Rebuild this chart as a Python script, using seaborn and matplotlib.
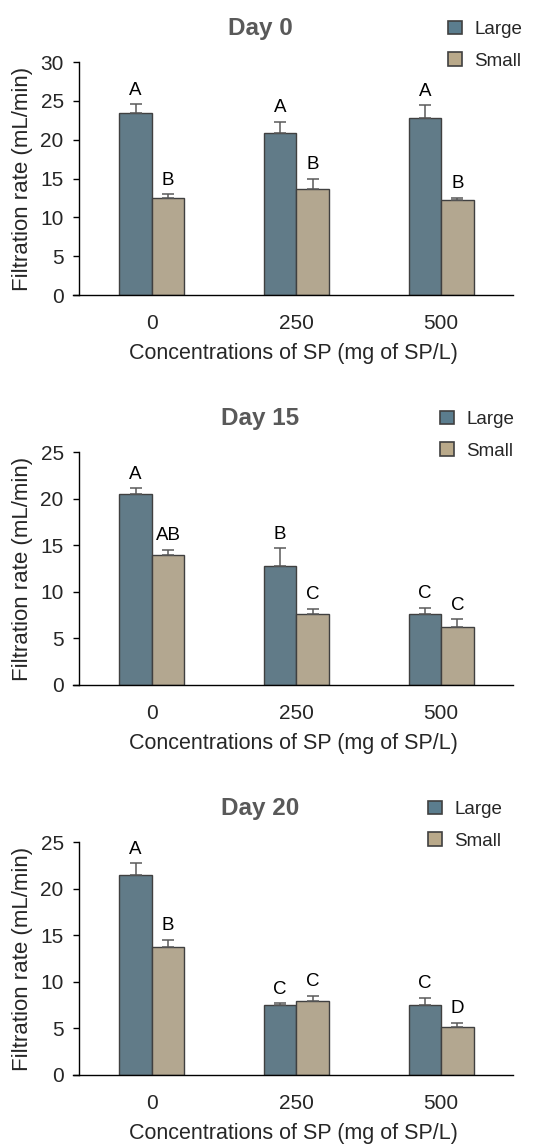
import numpy as np
import pandas as pd
import matplotlib
matplotlib.use("Agg")
import matplotlib.pyplot as plt
import seaborn as sns
from matplotlib.patches import Patch

# --- Data ---
concentrations = ["0", "250", "500"]
sizes = ["Large", "Small"]
days = ["Day 0", "Day 15", "Day 20"]

day0_large = [23.4, 20.8, 22.8]
day0_small = [12.5, 13.6, 12.2]
day0_large_err = [1.15, 1.45, 1.6]
day0_small_err = [0.45, 1.4, 0.35]
day0_large_let = ["A", "A", "A"]
day0_small_let = ["B", "B", "B"]

day15_large = [20.5, 12.8, 7.6]
day15_small = [14.0, 7.6, 6.2]
day15_large_err = [0.6, 1.85, 0.65]
day15_small_err = [0.5, 0.6, 0.85]
day15_large_let = ["A", "B", "C"]
day15_small_let = ["AB", "C", "C"]

day20_large = [21.5, 7.55, 7.55]
day20_small = [13.7, 7.95, 5.15]
day20_large_err = [1.2, 0.15, 0.7]
day20_small_err = [0.8, 0.55, 0.45]
day20_large_let = ["A", "C", "C"]
day20_small_let = ["B", "C", "D"]

y_max = [30, 25, 25]

panels = [
    (day0_large, day0_small, day0_large_err, day0_small_err, day0_large_let, day0_small_let),
    (day15_large, day15_small, day15_large_err, day15_small_err, day15_large_let, day15_small_let),
    (day20_large, day20_small, day20_large_err, day20_small_err, day20_large_let, day20_small_let),
]

palette = {"Large": "#5b7d8e", "Small": "#b9a98a"}
edge = "#404040"
err_col = "#5a5a5a"

sns.set_theme(style="white")
plt.rcParams["font.family"] = ["Liberation Sans", "DejaVu Sans"]

W, H = 550, 1144
fig = plt.figure(figsize=(W / 100, H / 100), dpi=100)

# axes boxes in pixels: (left, top, right, bottom)
boxes = [(73, 62, 513, 295), (73, 452, 513, 685), (73, 842, 513, 1075)]
legend_x = [0.852, 0.834, 0.807]

for k, (box, pdata) in enumerate(zip(boxes, panels)):
    large, small, lerr, serr, llet, slet = pdata
    l, t, r, b = box
    ax = fig.add_axes([l / W, 1 - b / H, (r - l) / W, (b - t) / H])

    df = pd.DataFrame({
        "conc": concentrations * 2,
        "size": ["Large"] * 3 + ["Small"] * 3,
        "rate": large + small,
    })
    sns.barplot(data=df, x="conc", y="rate", hue="size", order=concentrations,
                hue_order=sizes, palette=palette, width=0.45, errorbar=None,
                edgecolor=edge, linewidth=1.0, ax=ax, legend=False)

    errs = [lerr, serr]
    lets = [llet, slet]
    bar_conts = list(ax.containers)
    for c, cont in enumerate(bar_conts):
        for i, bar in enumerate(cont):
            xc = bar.get_x() + bar.get_width() / 2
            h = bar.get_height()
            e = errs[c][i]
            ax.errorbar(xc, h, yerr=[[0], [e]], fmt="none", ecolor=err_col,
                        elinewidth=1.1, capsize=4, capthick=1.1, zorder=1)
            ax.annotate(lets[c][i], (xc, h + e), xytext=(0, 7),
                        textcoords="offset points", ha="center", va="baseline",
                        fontsize=13.5, color="black")

    ax.set_xlim(-0.545, 2.497)
    ax.set_ylim(0, y_max[k])
    ax.set_yticks(np.arange(0, y_max[k] + 1, 5))
    ax.set_xlabel("Concentrations of SP (mg of SP/L)", fontsize=15.5, labelpad=7.5)
    ax.set_ylabel("Filtration rate (mL/min)", fontsize=16, labelpad=5)
    ax.tick_params(axis="y", length=4, width=1, pad=7, labelsize=15, left=True, color="black")
    ax.tick_params(axis="x", length=0, pad=13.5, labelsize=15)

    for s in ["top", "right"]:
        ax.spines[s].set_visible(False)
    ax.spines["left"].set_position(("axes", 6 / 440))
    ax.spines["left"].set_color("black")
    ax.spines["bottom"].set_color("black")
    ax.spines["left"].set_linewidth(1)
    ax.spines["bottom"].set_linewidth(1)

    ax.text(0.425, 1.142, days[k], transform=ax.transAxes, ha="center", va="center",
            fontsize=17.5, fontweight="bold", color="#595959")

    handles = [Patch(facecolor=palette[s], edgecolor=edge, linewidth=1.2) for s in sizes]
    ax.legend(handles, sizes, loc="upper left", bbox_to_anchor=(legend_x[k], 1.177),
              frameon=False, fontsize=13.5, handlelength=0.75, handleheight=0.75,
              handletextpad=0.65, labelspacing=0.75, borderaxespad=0, borderpad=0)

fig.savefig("out.png", dpi=100)
